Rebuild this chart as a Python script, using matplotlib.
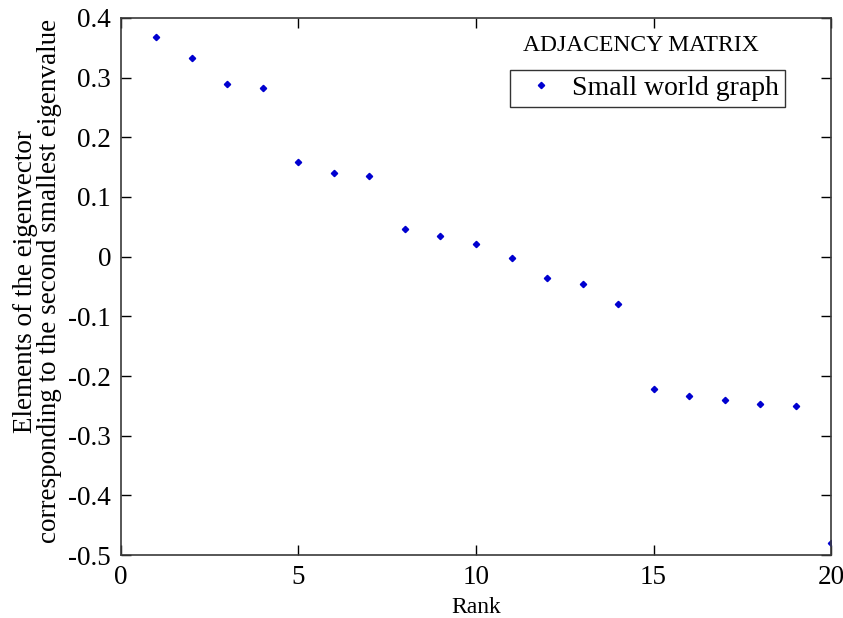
import matplotlib.pyplot as plt

# values
rank = list(range(1, 21))
fiedler = [0.368, 0.333, 0.289, 0.283, 0.159, 0.141, 0.136, 0.047, 0.034, 0.022,
           -0.002, -0.035, -0.046, -0.080, -0.222, -0.234, -0.241, -0.247, -0.250, -0.480]
x_ticks = [0, 5, 10, 15, 20]
y_ticks = [0.4, 0.3, 0.2, 0.1, 0, -0.1, -0.2, -0.3, -0.4, -0.5]

plt.rcParams['font.family'] = ['Liberation Serif', 'DejaVu Serif']

fig = plt.figure(figsize=(8.43, 6.18), dpi=100)
ax = fig.add_axes([0.1435, 0.1019, 0.8423, 0.869])

ax.plot(rank, fiedler, linestyle='none', marker='D', markersize=3.2,
        color='#0000d0', label='Small world graph')

ax.set_xlim(0, 20)
ax.set_ylim(-0.5, 0.4)
ax.set_xticks(x_ticks)
ax.set_xticklabels([str(t) for t in x_ticks])
ax.set_yticks(y_ticks)
ax.set_yticklabels(['0' if t == 0 else f'{t:g}' for t in y_ticks])
ax.tick_params(direction='in', length=7, width=1, labelsize=19.5,
               top=True, right=True, pad=7)
for s in ax.spines.values():
    s.set_linewidth(1.2)
    s.set_color('#3a3a3a')

ax.set_xlabel('Rank', fontsize=17, labelpad=5)
ax.set_ylabel('Elements of the eigenvector\ncorresponding to the second smallest eigenvalue',
              fontsize=19.5, linespacing=0.95)
ax.yaxis.label.set_va('center')
ax.yaxis.set_label_coords(-0.117, 0.51)

ax.text(0.732, 0.949, 'ADJACENCY MATRIX', transform=ax.transAxes,
        fontsize=17, ha='center', va='center')

leg = ax.legend(loc='upper right', bbox_to_anchor=(0.935, 0.903), fontsize=20,
                frameon=True, fancybox=False, handlelength=1.8, handletextpad=0.25,
                borderpad=0.2, borderaxespad=0)
leg.get_frame().set_edgecolor('black')
leg.get_frame().set_linewidth(1)

fig.savefig('out.png', dpi=100, facecolor='white')
